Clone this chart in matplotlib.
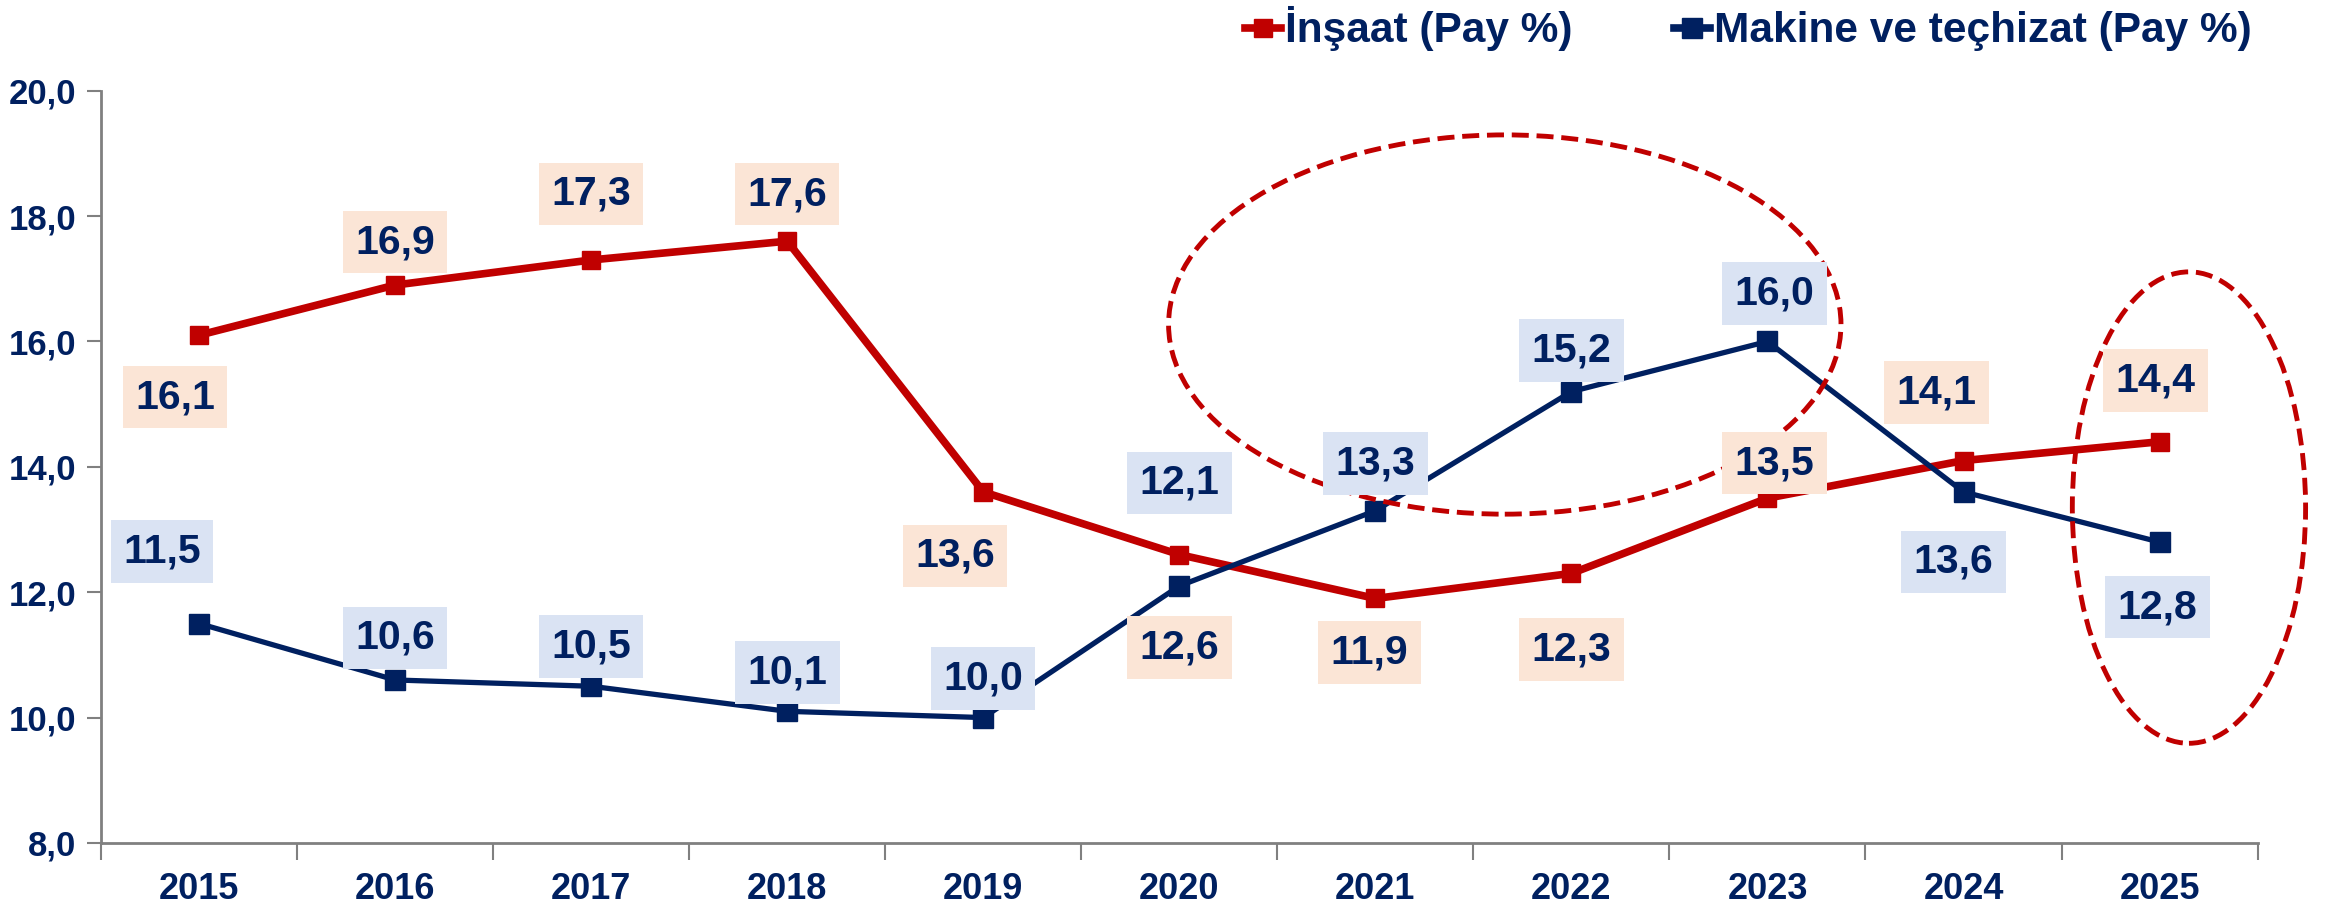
import matplotlib.pyplot as plt
from matplotlib.patches import Ellipse
from matplotlib.lines import Line2D

plt.rcParams['font.family'] = ['Liberation Sans', 'DejaVu Sans']
plt.rcParams['font.weight'] = 'bold'

# data
years = ['2015', '2016', '2017', '2018', '2019', '2020', '2021', '2022', '2023', '2024', '2025']
insaat = [16.1, 16.9, 17.3, 17.6, 13.6, 12.6, 11.9, 12.3, 13.5, 14.1, 14.4]
makine = [11.5, 10.6, 10.5, 10.1, 10.0, 12.1, 13.3, 15.2, 16.0, 13.6, 12.8]
yticks = [8, 10, 12, 14, 16, 18, 20]

# label offsets in pixels (dx, dy)
insaat_off = [(-24, -62), (0, 43), (0, 66), (0, 47), (-28, -64), (0, -93),
              (-6, -54), (0, -76), (7, 35), (-27, 68), (-4, 61)]
makine_off = [(-37, 72), (0, 42), (0, 40), (0, 39), (0, 39), (0, 103),
              (0, 47), (0, 41), (7, 48), (-10, -70), (-2, -65)]

RED = '#C00000'
NAVY = '#002060'

fig = plt.figure(figsize=(23.25, 9.07), dpi=100)
ax = fig.add_axes([0.0435, 0.0706, 0.9275, 0.8294])

x = list(range(len(years)))
ax.plot(x, insaat, color=RED, lw=5.5, marker='s', ms=13, zorder=3)
ax.plot(x, makine, color=NAVY, lw=3.8, marker='s', ms=14, zorder=3)

for xi, v, (dx, dy) in zip(x, insaat, insaat_off):
    ax.annotate(f'{v:.1f}'.replace('.', ','), (xi, v), xytext=(dx, dy),
                textcoords='offset pixels', ha='center', va='center',
                fontsize=29.5, color=NAVY, fontweight='bold', zorder=5,
                bbox=dict(boxstyle='square,pad=0.3', fc='#FBE5D6', ec='none'))
for xi, v, (dx, dy) in zip(x, makine, makine_off):
    ax.annotate(f'{v:.1f}'.replace('.', ','), (xi, v), xytext=(dx, dy),
                textcoords='offset pixels', ha='center', va='center',
                fontsize=29.5, color=NAVY, fontweight='bold', zorder=5,
                bbox=dict(boxstyle='square,pad=0.3', fc='#DAE3F3', ec='none'))

# dashed ellipses
ax.add_patch(Ellipse((6.66, 16.27), 3.43, 6.05, fill=False, ec=RED, lw=3.5,
                     ls=(0, (3.5, 1.6)), zorder=4, clip_on=False))
ax.add_patch(Ellipse((10.15, 13.35), 1.19, 7.52, fill=False, ec=RED, lw=3.5,
                     ls=(0, (3.5, 1.6)), zorder=4, clip_on=False))

ax.set_xlim(-0.5, len(years) - 0.5)
ax.set_ylim(8, 20)
ax.set_yticks(yticks)
ax.set_yticklabels([f'{t:.1f}'.replace('.', ',') for t in yticks],
                   fontsize=25, color=NAVY, fontweight='bold')
ax.set_xticks([i - 0.5 for i in range(len(years) + 1)])
ax.set_xticklabels([])
ax.set_xticks(x, minor=True)
ax.set_xticklabels(years, minor=True, fontsize=26, color=NAVY, fontweight='bold')
ax.tick_params(axis='x', which='major', length=12, color='#808080', width=1.5)
ax.tick_params(axis='x', which='minor', length=0, pad=21)
ax.tick_params(axis='y', length=10, color='#808080', width=1.5, pad=8)

for s in ['top', 'right']:
    ax.spines[s].set_visible(False)
for s in ['left', 'bottom']:
    ax.spines[s].set_color('#808080')
    ax.spines[s].set_linewidth(2)

handles = [Line2D([], [], color=RED, lw=5.5, marker='s', ms=13),
           Line2D([], [], color=NAVY, lw=5.5, marker='s', ms=14)]
fig.legend(handles, ['İnşaat (Pay %)', 'Makine ve teçhizat (Pay %)'],
           loc='upper right', bbox_to_anchor=(0.985, 1.035), ncol=2, frameon=False,
           handlelength=0.85, handletextpad=0.1, columnspacing=2.4,
           prop=dict(size=30.5, weight='bold'), labelcolor=NAVY)

fig.savefig('out.png', dpi=100)
